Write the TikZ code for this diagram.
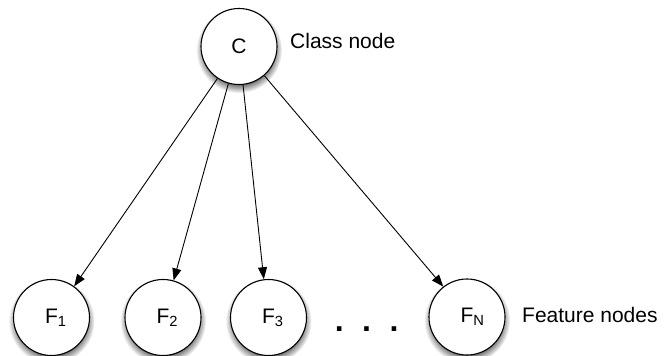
\documentclass[tikz,border=0pt]{standalone}
\usepackage{fontspec}
\setmainfont{Liberation Sans}
\usetikzlibrary{arrows.meta,fadings}

\begin{document}
\begin{tikzpicture}[x=1pt,y=-1pt,
  varnode/.style={circle,draw,line width=1.1pt,fill=white,minimum size=76pt,inner sep=0pt,
    font=\fontsize{21}{25}\selectfont},
  softshadow/.style={fill=black,opacity=0.55,path fading=circle with fuzzy edge 20 percent},
  note/.style={anchor=base west,inner sep=0pt,font=\fontsize{21}{25}\selectfont},
  edge/.style={line width=0.9pt,-{Triangle[length=12pt,width=9pt]}}]
\useasboundingbox (0,0) rectangle (664,356);

% soft shadows under the nodes
\foreach \x/\y in {239/46.5, 51.5/317.5, 163/317.5, 268.5/317.5, 467/317}
  \fill[softshadow] (\x,\y+3.5) circle (43pt);

% class node and feature nodes
\node[varnode] (c)  at (239,46.5)  {C};
\node[varnode] (f1) at (51.5,317.5) {F\rlap{\textsubscript{1}}};
\node[varnode] (f2) at (163,317.5)  {F\rlap{\textsubscript{2}}};
\node[varnode] (f3) at (268.5,317.5) {F\rlap{\textsubscript{3}}};
\node[varnode] (fn) at (467,317)    {F\rlap{\textsubscript{N}}};

% ellipsis between F3 and FN
\node[anchor=base,inner sep=0pt,font=\fontsize{32}{36}\selectfont\bfseries] (dots) at (366.7,331.8)
  {.\hspace{18.4pt}.\hspace{18.4pt}.};

% labels
\node[note] (lc) at (290,48)  {Class node};
\node[note] (lf) at (522,322) {Feature nodes};

% edges from the class node to each feature node
\draw[edge] (c.236.5) -- (f1.54);
\draw[edge] (c.254.7) -- (f2.74);
\draw[edge] (c.276.7) -- (f3.97);
\draw[edge] (c.311)   -- (fn.128.5);
\end{tikzpicture}
\end{document}
